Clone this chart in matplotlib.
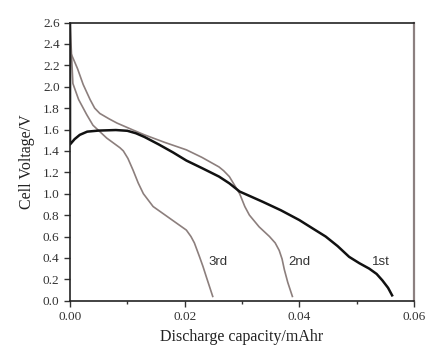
import numpy as np
import matplotlib.pyplot as plt

# discharge curves
cap_1st = [0.0, 0.0, 0.0, 0.0008, 0.0017, 0.003, 0.005, 0.008, 0.010, 0.0115, 0.013,
           0.0155, 0.018, 0.0203, 0.023, 0.026, 0.0278, 0.0296, 0.0315, 0.0336,
           0.0368, 0.040, 0.0425, 0.0446, 0.0467, 0.0487, 0.0505, 0.0522,
           0.0535, 0.0545, 0.0555, 0.0562]
volt_1st = [2.6, 2.0, 1.46, 1.51, 1.55, 1.58, 1.59, 1.595, 1.588, 1.565, 1.53,
            1.46, 1.385, 1.31, 1.24, 1.16, 1.097, 1.02, 0.975, 0.925,
            0.845, 0.754, 0.67, 0.60, 0.51, 0.41, 0.35, 0.30,
            0.25, 0.19, 0.12, 0.05]

cap_2nd = [0.0, 0.0, 0.0005, 0.0013, 0.0023, 0.0035, 0.0043, 0.0052, 0.0068, 0.0082, 0.011,
           0.013, 0.0165, 0.0203, 0.023, 0.026, 0.0268, 0.0278, 0.0287, 0.0296,
           0.0305, 0.0313, 0.033, 0.0348, 0.0358, 0.0365, 0.037, 0.0374, 0.038, 0.0388]
volt_2nd = [2.6, 2.33, 2.27, 2.17, 2.02, 1.88, 1.80, 1.75, 1.70, 1.66, 1.595,
            1.55, 1.48, 1.41, 1.34, 1.25, 1.215, 1.16, 1.08, 1.0,
            0.88, 0.80, 0.69, 0.60, 0.54, 0.47, 0.39, 0.29, 0.17, 0.04]

cap_3rd = [0.0, 0.0005, 0.0015, 0.0029, 0.004, 0.0064, 0.0087, 0.0093, 0.0101, 0.011,
           0.0119, 0.0128, 0.0145, 0.0174, 0.0203, 0.0211, 0.0217, 0.0226, 0.0232,
           0.0238, 0.0249]
volt_3rd = [2.6, 2.03, 1.88, 1.74, 1.64, 1.52, 1.43, 1.40, 1.33, 1.22,
            1.10, 1.0, 0.88, 0.77, 0.66, 0.60, 0.54, 0.41, 0.32,
            0.22, 0.04]

cycle_labels = ['1st', '2nd', '3rd']
label_x = [0.0527, 0.0381, 0.0241]
label_y = [0.36, 0.36, 0.36]

fig = plt.figure(figsize=(4.28, 3.49), dpi=100)
ax = fig.add_axes([0.1636, 0.1384, 0.8034, 0.7971])

gray = '#8c7f7d'
ax.plot(cap_3rd, volt_3rd, color=gray, lw=1.2)
ax.plot(cap_2nd, volt_2nd, color=gray, lw=1.2)
ax.plot(cap_1st, volt_1st, color='#111111', lw=1.8)

for lab, x, y in zip(cycle_labels, label_x, label_y):
    ax.text(x, y, lab, fontsize=9.5, family='Liberation Sans', color='#333333',
            va='center', ha='left')

ax.set_xlim(0, 0.06)
ax.set_ylim(0, 2.6)
ax.set_xticks(np.arange(0, 0.061, 0.02))
ax.set_xticks(np.arange(0, 0.061, 0.01), minor=True)
ax.set_yticks(np.arange(0, 2.61, 0.2))
ax.set_xticklabels(['0.00', '0.02', '0.04', '0.06'])
ax.set_yticklabels(['%.1f' % v for v in np.arange(0, 2.61, 0.2)])

ax.tick_params(direction='out', length=4, width=1, labelsize=9.5, colors='#333333')
ax.tick_params(which='minor', direction='out', length=2.5, width=1, colors='#333333')
for t in ax.get_xticklabels() + ax.get_yticklabels():
    t.set_family('Liberation Serif')

for s in ['left', 'bottom', 'top']:
    ax.spines[s].set_color('#222222')
    ax.spines[s].set_linewidth(1.2)
ax.spines['right'].set_color('#8c8080')
ax.spines['right'].set_linewidth(1.6)

ax.set_xlabel('Discharge capacity/mAhr', family='Liberation Serif', fontsize=11.5, color='#222222')
ax.set_ylabel('Cell Voltage/V', family='Liberation Serif', fontsize=11.5, color='#222222', labelpad=6)

fig.savefig('out.png', dpi=100)
